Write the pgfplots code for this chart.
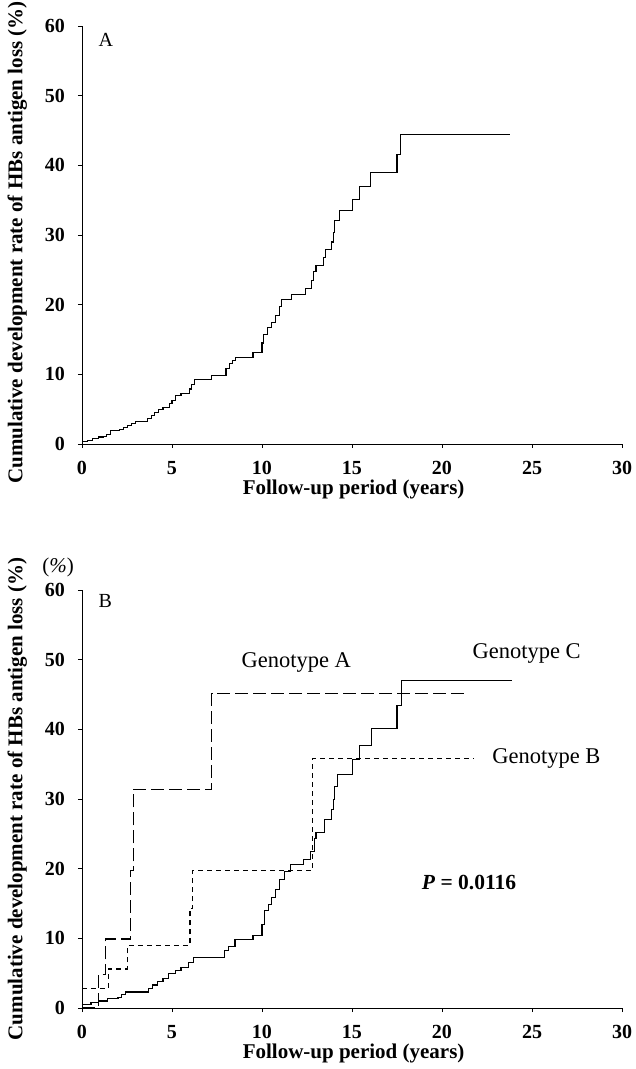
\documentclass[border=0pt]{standalone}
\usepackage{pgfplots}
\pgfplotsset{compat=1.18}
\usepackage{fontspec}
\setmainfont{Liberation Serif}

\pgfplotstableread{
x y
0 0.3
0.3 0.5
0.6 0.8
0.9 1.0
1.2 1.1
1.35 1.3
1.6 1.9
2.1 2.1
2.3 2.4
2.55 2.7
2.75 3.0
2.95 3.2
3.65 3.7
3.85 4.1
4.05 4.5
4.25 5.0
4.5 5.3
4.85 5.8
5.0 6.3
5.2 7.0
5.5 7.2
5.95 7.9
6.1 8.6
6.25 9.3
7.2 9.8
8.0 10.8
8.2 11.5
8.35 12.0
8.55 12.4
9.5 13.1
10.0 14.5
10.1 15.7
10.3 16.7
10.55 17.5
10.75 18.4
10.95 19.7
11.1 20.7
11.65 21.5
12.4 22.3
12.75 23.5
12.85 24.7
13.0 25.6
13.4 26.8
13.55 27.9
13.85 29.0
13.95 30.4
14.05 32.1
14.3 33.5
15.05 35.1
15.4 36.9
16.05 39.0
17.5 41.5
17.7 44.4
23.8 44.4
}\overall

\pgfplotstableread{
x y
0 0
0.9 4.8
1.3 9.9
2.7 19.8
2.85 31.4
7.2 45.2
21.4 45.2
}\genA

\pgfplotstableread{
x y
0 2.8
1.45 5.6
2.55 9.0
6.0 14.3
6.15 19.7
12.8 35.8
21.8 35.8
}\genB

\pgfplotstableread{
x y
0 0.5
0.5 0.8
0.9 1.0
1.4 1.3
2.0 1.5
2.2 2.0
2.4 2.3
3.7 2.8
3.9 3.3
4.2 3.8
4.5 4.2
4.8 4.9
5.2 5.4
5.5 5.8
5.9 6.5
6.2 7.2
7.9 8.3
8.15 8.8
8.5 9.8
9.5 10.4
10.0 12.0
10.15 14.0
10.35 14.8
10.55 15.8
10.75 17.0
10.95 18.5
11.25 19.6
11.6 20.6
12.3 21.3
12.7 22.5
12.9 24.3
13.0 25.2
13.45 27.0
13.85 28.5
13.95 29.9
14.05 31.8
14.2 33.5
15.05 35.7
15.4 37.7
16.07 40.1
17.5 43.4
17.73 47.0
23.87 47.0
}\genC

\newcommand{\tickfont}{\fontsize{20}{22}\selectfont\bfseries}
\newcommand{\labfont}{\fontsize{21}{24}\selectfont\bfseries}
\newcommand{\txtfont}{\fontsize{22.5}{25}\selectfont}

\pgfplotsset{
  kmstyle/.style={
    scale only axis, width=540pt, height=418pt,
    xmin=0, xmax=30, ymin=0, ymax=60,
    axis x line*=bottom, axis y line*=left,
    xtick={0,5,...,30}, ytick={0,10,...,60},
    tick align=outside, major tick length=4pt,
    tick style={black, line width=0.7pt},
    axis line style={black, line width=0.9pt},
    /pgf/number format/assume math mode=true,
    ticklabel style={font=\tickfont, inner sep=0pt},
    xticklabel style={anchor=north, yshift=-13pt},
    yticklabel style={anchor=east, xshift=-13pt},
    xlabel style={font=\labfont, at={(axis description cs:0.503,0)}, anchor=center, yshift=-45pt},
    ylabel style={font=\labfont, at={(axis description cs:-0.12,0.5)}, anchor=center},
    xlabel={Follow-up period (years)},
    ylabel={Cumulative development rate of HBs antigen loss (\%)},
    clip=false,
  }
}

\begin{document}
\begin{tikzpicture}
\begin{axis}[kmstyle, at={(0pt,564pt)}, anchor=south west,
  ylabel style={at={(axis description cs:-0.12,0.482)}}]
  \addplot[const plot, black, line width=1.1pt] table[x=x,y=y] {\overall};
  \node[font=\fontsize{20}{22}\selectfont] at (axis cs:1.33,58.0) {A};
\end{axis}
\begin{axis}[kmstyle, at={(0pt,0pt)}, anchor=south west]
  \addplot[const plot, black, line width=1.1pt, dash pattern=on 13pt off 5pt] table[x=x,y=y] {\genA};
  \addplot[const plot, black, line width=1.1pt, dash pattern=on 5pt off 4pt] table[x=x,y=y] {\genB};
  \addplot[const plot, black, line width=1.1pt] table[x=x,y=y] {\genC};
  \node[font=\fontsize{20}{22}\selectfont] at (axis cs:1.3,58.4) {B};
  \node[font=\txtfont] at (axis cs:11.9,49.6) {Genotype A};
  \node[font=\txtfont] at (axis cs:24.7,50.9) {Genotype C};
  \node[font=\txtfont] at (axis cs:25.8,35.8) {Genotype B};
  \node[font=\fontsize{21.5}{24}\selectfont\bfseries] at (axis cs:21.5,18) {\textit{P} = 0.0116};
  \node[font=\fontsize{21}{24}\selectfont] at (rel axis cs:-0.044,1.055) {(\textit{\%})};
\end{axis}
\pgfresetboundingbox
\path[use as bounding box] (-82pt,-61pt) rectangle (553pt,1008pt);
\end{tikzpicture}
\end{document}
